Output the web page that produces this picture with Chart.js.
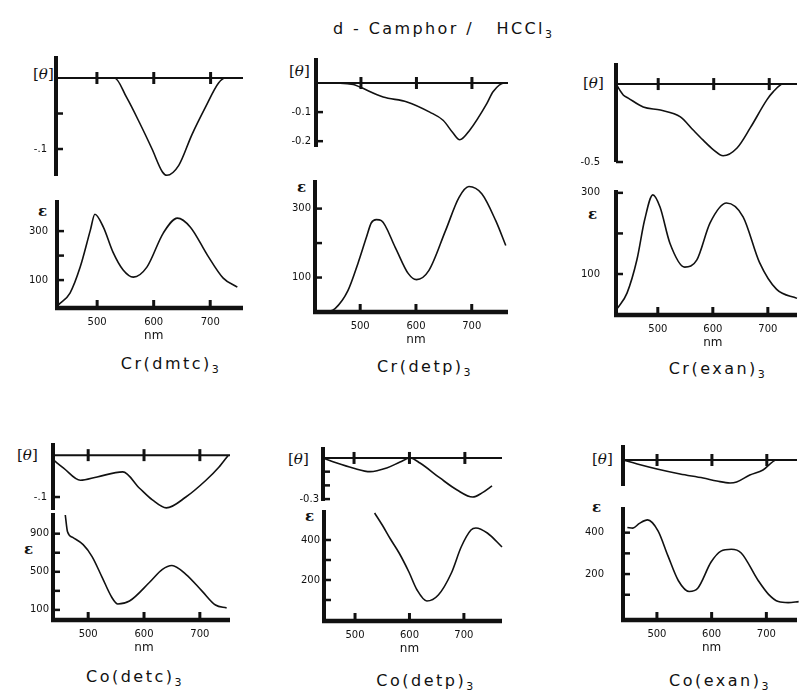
<!DOCTYPE html>
<html>
<head>
<meta charset="utf-8">
<script src="https://cdn.jsdelivr.net/npm/chart.js@4.4.1/dist/chart.umd.min.js"></script>
<style>
  html, body { margin: 0; padding: 0; background: #fff; overflow: hidden; }
  #page { position: relative; width: 799px; height: 694px; font-family: "DejaVu Sans", sans-serif; color: #111; }
  canvas { position: absolute; }
  .txt { position: absolute; white-space: pre; line-height: 1; }
  .sym { font-family: "DejaVu Serif", serif; font-size: 15px; }
  .eps { font-family: "DejaVu Serif", serif; font-size: 15px; font-weight: bold; }
  .cmp { font-size: 16px; letter-spacing: 2.5px; transform: translateX(-50%); }
  sub { font-size: 11px; vertical-align: -4px; }
</style>
</head>
<body>
<div id="page">
  <div class="txt" style="left:333px;top:21px;font-size:16px;letter-spacing:2.4px;">d - Camphor /   HCCl<sub>3</sub></div>

  <div class="txt cmp" style="left:171px;top:356px;">Cr(dmtc)<sub>3</sub></div>
  <div class="txt cmp" style="left:425px;top:359px;">Cr(detp)<sub>3</sub></div>
  <div class="txt cmp" style="left:718px;top:361px;">Cr(exan)<sub>3</sub></div>
  <div class="txt cmp" style="left:135px;top:669px;">Co(detc)<sub>3</sub></div>
  <div class="txt cmp" style="left:426px;top:673px;">Co(detp)<sub>3</sub></div>
  <div class="txt cmp" style="left:720px;top:673px;">Co(exan)<sub>3</sub></div>

  <div class="txt sym" style="left:33px;top:67px;">[<i>θ</i>]</div>
  <div class="txt sym" style="left:289px;top:64px;">[<i>θ</i>]</div>
  <div class="txt sym" style="left:583px;top:76px;">[<i>θ</i>]</div>
  <div class="txt sym" style="left:17px;top:448px;">[<i>θ</i>]</div>
  <div class="txt sym" style="left:288px;top:452px;">[<i>θ</i>]</div>
  <div class="txt sym" style="left:592px;top:452px;">[<i>θ</i>]</div>

  <div class="txt eps" style="left:38px;top:204px;">ε</div>
  <div class="txt eps" style="left:297px;top:180px;">ε</div>
  <div class="txt eps" style="left:588px;top:207px;">ε</div>
  <div class="txt eps" style="left:24px;top:542px;">ε</div>
  <div class="txt eps" style="left:305px;top:509px;">ε</div>
  <div class="txt eps" style="left:592px;top:500px;">ε</div>
</div>

<script>
// wavelength ticks (nm)
const xTicks = [500, 600, 700];

// Cr(dmtc)3
const cdWl1 = [428, 531, 552, 575, 597, 615, 623, 644, 667, 691, 714, 726, 757];
const cd1 = [0, 0, -0.027, -0.063, -0.10, -0.132, -0.137, -0.123, -0.08, -0.041, -0.007, 0, 0];
const absWl1 = [432, 452, 470, 488, 496, 511, 528, 546, 564, 588, 617, 642, 665, 695, 723, 748];
const abs1 = [0, 47, 153, 304, 369, 316, 214, 141, 112, 153, 292, 353, 316, 202, 108, 71];

// Cr(detp)3
const cdWl2 = [419, 430, 486, 498, 540, 583, 624, 648, 666, 678, 696, 727, 738, 759, 765];
const cd2 = [0, 0, -0.005, -0.014, -0.048, -0.065, -0.1, -0.128, -0.172, -0.195, -0.162, -0.07, -0.03, 0, 0];
const absWl2 = [440, 455, 478, 496, 511, 520, 529, 538, 563, 586, 601, 623, 653, 677, 695, 718, 743, 761];
const abs2 = [0, 10, 62, 141, 216, 259, 268, 265, 187, 112, 94, 120, 236, 332, 364, 343, 265, 193];

// Cr(exan)3
const cdWl3 = [424, 437, 446, 473, 504, 540, 563, 581, 599, 617, 642, 666, 696, 707, 725, 750];
const cd3 = [0, -0.07, -0.09, -0.147, -0.167, -0.21, -0.295, -0.36, -0.42, -0.46, -0.41, -0.28, -0.10, -0.05, 0, 0];
const absWl3 = [427, 444, 462, 476, 491, 504, 522, 549, 571, 595, 625, 655, 685, 716, 753];
const abs3 = [16, 53, 135, 233, 295, 265, 176, 117, 135, 226, 275, 241, 128, 62, 40];

// Co(detc)3
const cdWl4 = [438, 456, 486, 516, 562, 592, 615, 640, 675, 711, 734, 751];
const cd4 = [-0.012, -0.031, -0.06, -0.052, -0.04, -0.079, -0.107, -0.126, -0.1, -0.06, -0.029, 0];
const absWl4 = [459, 463, 473, 491, 507, 525, 542, 553, 574, 610, 633, 650, 675, 704, 728, 748];
const abs4 = [1096, 920, 858, 785, 660, 442, 235, 162, 193, 390, 525, 566, 473, 297, 151, 120];

// Co(detp)3
const cdWl5 = [444, 469, 498, 529, 559, 583, 601, 619, 655, 686, 714, 731, 749];
const cd5 = [0, -0.037, -0.073, -0.1, -0.073, -0.03, 0, -0.037, -0.146, -0.234, -0.285, -0.255, -0.204];
const absWl5 = [536, 550, 565, 581, 599, 614, 632, 653, 677, 695, 713, 722, 743, 770];
const abs5 = [535, 475, 405, 335, 240, 150, 95, 125, 235, 365, 450, 460, 435, 365];

// Co(exan)3
const cdWl6 = [438, 464, 500, 542, 584, 609, 633, 645, 669, 693, 718, 755];
const cd6 = [0, -0.04, -0.09, -0.14, -0.18, -0.21, -0.23, -0.22, -0.15, -0.10, 0, 0];
const absWl6 = [446, 456, 468, 483, 502, 520, 539, 559, 575, 599, 617, 636, 654, 685, 704, 722, 740, 759];
const abs6 = [425, 422, 445, 462, 409, 289, 169, 116, 133, 258, 311, 320, 302, 169, 102, 67, 62, 67];

// y tick values and their labels ('' = unlabelled mark)
const yTicks1cd = [-0.05, -0.1], yLabels1cd = ['', '-.1'];
const yTicks1ab = [100, 200, 300], yLabels1ab = ['100', '', '300'];
const yTicks2cd = [-0.1, -0.2], yLabels2cd = ['-0.1', '-0.2'];
const yTicks2ab = [100, 200, 300], yLabels2ab = ['100', '', '300'];
const yTicks3cd = [-0.5], yLabels3cd = ['-0.5'];
const yTicks3ab = [100, 200, 300], yLabels3ab = ['100', '', '300'];
const yTicks4cd = [-0.1], yLabels4cd = ['-.1'];
const yTicks4ab = [100, 300, 500, 700, 900], yLabels4ab = ['100', '', '500', '', '900'];
const yTicks5cd = [-0.1, -0.2, -0.3], yLabels5cd = ['', '', '-0.3'];
const yTicks5ab = [100, 200, 300, 400], yLabels5ab = ['', '200', '', '400'];
const yTicks6cd = [], yLabels6cd = [];
const yTicks6ab = [100, 200, 300, 400], yLabels6ab = ['', '200', '', '400'];

const ink = '#111';

// draws the hand-drawn style axes of each small panel
const figAxes = {
    id: 'figAxes',
    afterDatasetsDraw(chart, args, opts) {
        const { ctx, chartArea: a } = chart;
        const x = chart.scales.x, y = chart.scales.y;
        const seg = (x1, y1, x2, y2) => { ctx.beginPath(); ctx.moveTo(x1, y1); ctx.lineTo(x2, y2); ctx.stroke(); };
        ctx.save();
        ctx.strokeStyle = ink;
        ctx.fillStyle = ink;
        ctx.font = '10px "DejaVu Sans", sans-serif';

        // y axis
        ctx.lineWidth = 4;
        seg(a.left, a.top, a.left, a.bottom);

        if (opts.kind === 'cd') {
            const y0 = y.getPixelForValue(0);
            ctx.lineWidth = 2;
            seg(a.left, y0, a.right, y0);
            ctx.lineWidth = 3;
            xTicks.forEach(v => {
                const px = x.getPixelForValue(v);
                seg(px, y0 - 6, px, y0 + 6);
            });
        } else {
            ctx.lineWidth = 4.5;
            seg(a.left - 2, a.bottom, a.right, a.bottom);
            ctx.lineWidth = 3;
            ctx.textAlign = 'center';
            ctx.textBaseline = 'middle';
            xTicks.forEach(v => {
                const px = x.getPixelForValue(v);
                seg(px, a.bottom, px, a.bottom - 8);
                ctx.fillText(String(v), px, a.bottom + 14);
            });
            ctx.font = '12px "DejaVu Sans", sans-serif';
            ctx.fillText('nm', x.getPixelForValue(600), a.bottom + 28);
            ctx.font = '10px "DejaVu Sans", sans-serif';
        }

        // y ticks and labels
        ctx.lineWidth = 2.5;
        ctx.textAlign = 'right';
        ctx.textBaseline = 'middle';
        opts.yTicks.forEach((v, i) => {
            const py = y.getPixelForValue(v);
            seg(a.left, py, a.left + 7, py);
            if (opts.yLabels[i]) ctx.fillText(opts.yLabels[i], a.left - opts.gap, py);
        });
        ctx.restore();
    }
};

const padL = 60, padR = 4, padT = 10;

function makePanel(p) {
    const padB = p.kind === 'cd' ? 12 : 40;
    const cv = document.createElement('canvas');
    const w = p.right - p.left + padL + padR;
    const h = p.bottom - p.top + padT + padB;
    cv.width = w;
    cv.height = h;
    cv.style.left = (p.left - padL) + 'px';
    cv.style.top = (p.top - padT) + 'px';
    cv.style.width = w + 'px';
    cv.style.height = h + 'px';
    document.getElementById('page').appendChild(cv);

    new Chart(cv, {
        type: 'line',
        data: {
            datasets: [{
                data: p.wl.map((v, i) => ({ x: v, y: p.vals[i] })),
                borderColor: ink,
                borderWidth: 1.6,
                pointRadius: 0,
                cubicInterpolationMode: 'monotone',
                fill: false,
                clip: false
            }]
        },
        options: {
            responsive: false,
            animation: false,
            devicePixelRatio: 1,
            layout: { padding: { left: padL, right: padR, top: padT, bottom: padB } },
            scales: {
                x: { type: 'linear', min: p.xMin, max: p.xMax, display: false },
                y: { type: 'linear', min: p.yMin, max: p.yMax, display: false }
            },
            plugins: {
                legend: { display: false },
                tooltip: { enabled: false },
                figAxes: { kind: p.kind, yTicks: p.yTicks, yLabels: p.yLabels, gap: p.gap }
            }
        },
        plugins: [figAxes]
    });
}

const panels = [
    { kind: 'cd', left: 56, right: 243, top: 56, bottom: 176, xMin: 428, xMax: 757, yMin: -0.138, yMax: 0.031, wl: cdWl1, vals: cd1, yTicks: yTicks1cd, yLabels: yLabels1cd, gap: 9 },
    { kind: 'ab', left: 57, right: 243, top: 200, bottom: 308, xMin: 429, xMax: 758, yMin: -14, yMax: 427, wl: absWl1, vals: abs1, yTicks: yTicks1ab, yLabels: yLabels1ab, gap: 9 },
    { kind: 'cd', left: 316, right: 508, top: 58, bottom: 147, xMin: 419, xMax: 765, yMin: -0.22, yMax: 0.086, wl: cdWl2, vals: cd2, yTicks: yTicks2cd, yLabels: yLabels2cd, gap: 5 },
    { kind: 'ab', left: 315, right: 508, top: 180, bottom: 312, xMin: 419, xMax: 765, yMin: 0, yMax: 383, wl: absWl2, vals: abs2, yTicks: yTicks2ab, yLabels: yLabels2ab, gap: 4 },
    { kind: 'cd', left: 616, right: 797, top: 63, bottom: 162, xMin: 424, xMax: 750, yMin: -0.5, yMax: 0.135, wl: cdWl3, vals: cd3, yTicks: yTicks3cd, yLabels: yLabels3cd, gap: 16 },
    { kind: 'ab', left: 616, right: 797, top: 190, bottom: 315, xMin: 424, xMax: 753, yMin: -1, yMax: 307, wl: absWl3, vals: abs3, yTicks: yTicks3ab, yLabels: yLabels3ab, gap: 16 },
    { kind: 'cd', left: 53, right: 230, top: 443, bottom: 510, xMin: 437, xMax: 754, yMin: -0.131, yMax: 0.029, wl: cdWl4, vals: cd4, yTicks: yTicks4cd, yLabels: yLabels4cd, gap: 6 },
    { kind: 'ab', left: 53, right: 230, top: 513, bottom: 620, xMin: 437, xMax: 754, yMin: -6, yMax: 1117, wl: absWl4, vals: abs4, yTicks: yTicks4ab, yLabels: yLabels4ab, gap: 4 },
    { kind: 'cd', left: 323, right: 502, top: 447, bottom: 501, xMin: 444, xMax: 767, yMin: -0.314, yMax: 0.08, wl: cdWl5, vals: cd5, yTicks: yTicks5cd, yLabels: yLabels5cd, gap: 4 },
    { kind: 'ab', left: 324, right: 502, top: 510, bottom: 621, xMin: 443, xMax: 770, yMin: -5, yMax: 550, wl: absWl5, vals: abs5, yTicks: yTicks5ab, yLabels: yLabels5ab, gap: 4 },
    { kind: 'cd', left: 623, right: 797, top: 445, bottom: 486, xMin: 438, xMax: 755, yMin: -0.26, yMax: 0.15, wl: cdWl6, vals: cd6, yTicks: yTicks6cd, yLabels: yLabels6cd, gap: 4 },
    { kind: 'ab', left: 623, right: 797, top: 507, bottom: 620, xMin: 438, xMax: 756, yMin: -22, yMax: 524, wl: absWl6, vals: abs6, yTicks: yTicks6ab, yLabels: yLabels6ab, gap: 19 }
];

panels.forEach(makePanel);
</script>
</body>
</html>
